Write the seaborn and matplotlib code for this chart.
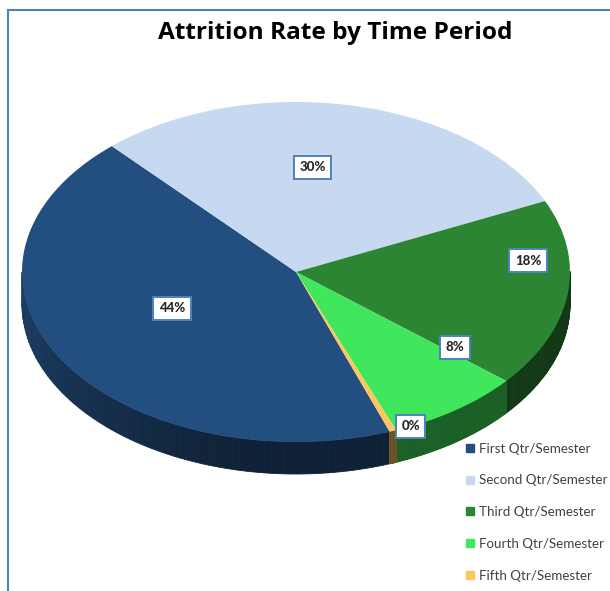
import numpy as np
import matplotlib
matplotlib.use("Agg")
import matplotlib.pyplot as plt
import seaborn as sns
from matplotlib.patches import Polygon, Rectangle
from matplotlib.lines import Line2D
from matplotlib.colors import to_rgb

# ======================================================
# DATA
# ======================================================
periods = ["First Qtr/Semester", "Second Qtr/Semester", "Third Qtr/Semester",
           "Fourth Qtr/Semester", "Fifth Qtr/Semester"]
attrition_pct = [44, 30, 18, 8, 0.4]
pct_labels = ["44%", "30%", "18%", "8%", "0%"]

colors = ["#234f80", "#c6d9f0", "#2c8533", "#40e65c", "#ffc65c"]

# label placement (fraction of radius, angle nudge in degrees)
label_r = [0.50, 0.62, 0.85, 0.73, 1.0]
label_dt = [-6, 6, 12, 17, 4]

# ======================================================
# LAYOUT (pixels of the 610x591 canvas)
# ======================================================
W, H = 610, 591
CX, CY = 296, 272       # ellipse centre
RX, RY = 274, 170       # ellipse radii
DEPTH = 32 / RY         # thickness of the 3d rim in data units

sns.set_theme(style="white")
plt.rcParams["font.family"] = ["Lato", "DejaVu Sans"]

fig = plt.figure(figsize=(W / 100, H / 100), dpi=100)
ax = fig.add_axes([0, 0, 1, 1])

wedges, _ = ax.pie(
    attrition_pct, colors=colors, startangle=-70, counterclock=False,
    radius=1, center=(0, 0), wedgeprops=dict(linewidth=0), frame=True
)
for w in wedges:
    w.set_zorder(2)


# --- side wall of the "3d" pie (front half only) ---
def shade(angle):
    a = angle % 360
    f = 0.8 - 0.38 * min(1.0, max(0.0, (a - 180) / 80))
    return f


for w, c in zip(wedges, colors):
    base = np.array(to_rgb(c))
    ts = np.linspace(w.theta1, w.theta2, 120)
    for a0, a1 in zip(ts[:-1], ts[1:]):
        mid = np.radians((a0 + a1) / 2)
        if np.sin(mid) >= 0:
            continue
        seg = np.radians(np.linspace(a0, a1, 4))
        xs = np.cos(seg)
        ys = np.sin(seg)
        pts = np.column_stack([np.r_[xs, xs[::-1]], np.r_[ys, ys[::-1] - DEPTH]])
        col = base * shade((a0 + a1) / 2)
        ax.add_patch(Polygon(pts, closed=True, fc=col, ec=col, lw=0.6, zorder=1))

# --- percentage labels ---
for w, lab, r, dt in zip(wedges, pct_labels, label_r, label_dt):
    mid = np.radians((w.theta1 + w.theta2) / 2 + dt)
    ax.text(r * np.cos(mid), r * np.sin(mid), lab, ha="center", va="center",
            fontsize=9.5, fontweight="black", color="#262626", zorder=5,
            bbox=dict(boxstyle="square,pad=0.42", fc="white", ec="#4f81bd", lw=1.4))

ax.set_aspect("auto")
ax.set_xlim(-CX / RX, (W - CX) / RX)
ax.set_ylim(-(H - CY) / RY, CY / RY)
ax.axis("off")

# ======================================================
# TITLE, LEGEND, BORDER
# ======================================================
fig.text(335 / W, 1 - 33 / H, "Attrition Rate by Time Period", ha="center", va="center",
         fontsize=17.6, fontweight="bold", color="black", family=["Open Sans", "DejaVu Sans"])

handles = [Line2D([], [], marker="s", ls="", color=c, markersize=6) for c in colors]
fig.legend(handles, periods, loc="upper left", bbox_to_anchor=(457 / W, 1 - 436 / H),
           frameon=False, fontsize=9.6, labelspacing=1.48, handletextpad=0.15,
           handlelength=1.0, borderpad=0, labelcolor="#404040")

fig.add_artist(Rectangle((8 / W, -0.1), 2, 1 - 10 / H + 0.1, transform=fig.transFigure,
                         fill=False, ec="#4f81bd", lw=1.5))

fig.savefig("out.png", dpi=100)
